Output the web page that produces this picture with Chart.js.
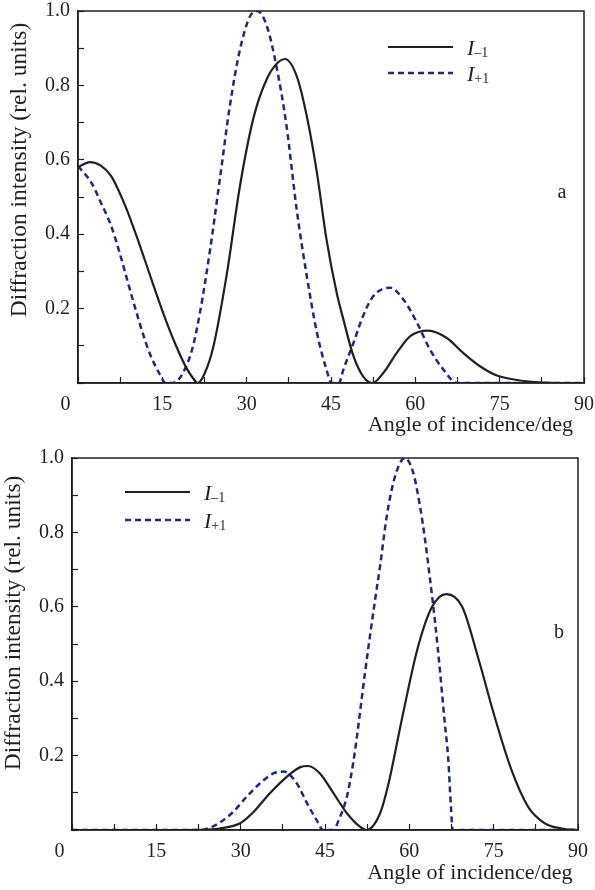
<!DOCTYPE html>
<html>

<head>
    <title>Diffraction intensity vs angle of incidence</title>
    <script src="https://cdn.jsdelivr.net/npm/chart.js"></script>
    <style>
        body { margin: 0; background: #fff; }
        canvas { display: block; }
    </style>
</head>

<body>
    <canvas id="chartA" width="595" height="440"></canvas>
    <canvas id="chartB" width="595" height="450"></canvas>

    <script>
        // panel a
        const angleMinusA = [0, 2.1, 4, 5.9, 8.3, 10.1, 11.9, 13.3, 15.4, 17.5, 19.3, 20.5, 21.3, 22.5, 24.1, 26.5, 28.8, 31.2, 33.6, 35.6, 36.8, 38.9, 40.7, 42.5, 44.2, 46, 47.2, 49, 50.7, 52.4, 54.3, 56.7, 59.1, 62.3, 65.6, 68.5, 71.5, 74.5, 78.1, 81.8, 86, 90];
        const intMinusA = [0.58, 0.594, 0.585, 0.556, 0.48, 0.408, 0.33, 0.268, 0.178, 0.098, 0.04, 0.012, 0, 0.025, 0.099, 0.296, 0.529, 0.712, 0.818, 0.862, 0.871, 0.825, 0.717, 0.565, 0.386, 0.243, 0.171, 0.072, 0.018, 0, 0.027, 0.081, 0.126, 0.141, 0.121, 0.081, 0.045, 0.02, 0.008, 0.002, 0, 0];
        const anglePlusA = [0, 2.4, 4.1, 5.9, 7.4, 8.9, 10.2, 11.6, 12.8, 14.6, 15.6, 16.8, 17.6, 18.7, 20.3, 21.7, 23.5, 25.3, 27, 28.8, 30.6, 31.9, 33.6, 35.3, 37.1, 38.9, 40.7, 42.5, 44.2, 45.1, 46.4, 47.2, 49, 50.7, 52.5, 55.5, 57.9, 60.3, 62.6, 65, 67.4, 75, 90];
        const intPlusA = [0.583, 0.538, 0.484, 0.422, 0.35, 0.269, 0.2, 0.13, 0.078, 0.022, 0, 0, 0.005, 0.028, 0.09, 0.19, 0.359, 0.556, 0.744, 0.896, 0.986, 1.0, 0.959, 0.851, 0.69, 0.466, 0.287, 0.135, 0.036, 0, 0, 0.036, 0.108, 0.18, 0.233, 0.256, 0.224, 0.162, 0.09, 0.036, 0, 0, 0];

        // panel b
        const angleMinusB = [0, 20, 24, 26.3, 29.9, 32.2, 35.2, 38.2, 40.6, 42, 44.1, 46.5, 48.9, 51.2, 52.4, 54.8, 56.3, 58.7, 61.5, 64, 66.6, 69.4, 72.2, 75.2, 78.2, 81.1, 84.1, 87.1, 90];
        const intMinusB = [0, 0, 0.001, 0.004, 0.018, 0.047, 0.099, 0.143, 0.169, 0.172, 0.152, 0.099, 0.045, 0.009, 0, 0.045, 0.125, 0.30, 0.49, 0.599, 0.634, 0.60, 0.465, 0.303, 0.16, 0.063, 0.018, 0.004, 0];
        const anglePlusB = [0, 20, 22.8, 25.1, 26.3, 28.7, 31.1, 33.4, 35.8, 37.6, 40, 41.8, 43.5, 44.7, 46.4, 47.7, 48.9, 50, 50.6, 52.1, 53.9, 54.8, 56, 57.1, 58.3, 59.2, 60.7, 61.9, 62.8, 63.7, 64.6, 65.5, 66.3, 66.9, 67.4, 67.7, 75, 90];
        const intPlusB = [0, 0, 0, 0.01, 0.02, 0.049, 0.09, 0.125, 0.152, 0.157, 0.125, 0.072, 0.027, 0, 0, 0.036, 0.09, 0.179, 0.242, 0.421, 0.618, 0.71, 0.845, 0.93, 0.985, 1.0, 0.96, 0.87, 0.78, 0.672, 0.556, 0.42, 0.288, 0.196, 0.062, 0, 0, 0];

        const seriesSubs = ['\u20131', '+1'];
        const xLabels = [0, 15, 30, 45, 60, 75, 90];
        const yLabels = [0.2, 0.4, 0.6, 0.8, 1.0];

        const ink = '#231f20';
        const navy = '#1e2a78';
        const serif = '"Liberation Serif", "Times New Roman", serif';
        const nb = '\u00a0';

        function points(xs, ys) {
            return xs.map((x, i) => ({ x: x, y: ys[i] }));
        }

        function noPad(s) {
            s.paddingTop = 0;
            s.paddingBottom = 0;
            s.paddingLeft = 0;
            s.paddingRight = 0;
        }

        // the origin label sits left of the corner in the original
        function xTick(v) {
            if (!xLabels.includes(v)) return '';
            return v === 0 ? '0' + nb.repeat(5) : String(v);
        }

        // frame, legend and panel letter
        const decor = {
            id: 'decor',
            afterDraw(chart, args, opts) {
                const ctx = chart.ctx;
                const a = chart.chartArea;
                ctx.save();
                ctx.strokeStyle = ink;
                ctx.lineWidth = 1.5;
                ctx.strokeRect(a.left, a.top, a.right - a.left, a.bottom - a.top);

                chart.data.datasets.forEach((ds, i) => {
                    const y = opts.legendY + i * opts.legendGap;
                    ctx.strokeStyle = ds.borderColor;
                    ctx.lineWidth = ds.borderWidth;
                    ctx.setLineDash(ds.borderDash || []);
                    ctx.beginPath();
                    ctx.moveTo(opts.legendX, y);
                    ctx.lineTo(opts.legendX + 65, y);
                    ctx.stroke();
                    ctx.setLineDash([]);

                    ctx.fillStyle = ink;
                    ctx.textBaseline = 'alphabetic';
                    ctx.font = 'italic 22px ' + serif;
                    const tx = opts.legendX + 79;
                    ctx.fillText('I', tx, y + 8);
                    const w = ctx.measureText('I').width;
                    ctx.font = '14px ' + serif;
                    ctx.fillText(seriesSubs[i], tx + w, y + 10);
                });

                ctx.fillStyle = ink;
                ctx.font = '20px ' + serif;
                ctx.textAlign = 'center';
                ctx.textBaseline = 'middle';
                ctx.fillText(opts.letter, opts.letterX, opts.letterY);
                ctx.restore();
            }
        };

        function makeChart(id, minusX, minusY, plusX, plusY, lay) {
            const ctx = document.getElementById(id).getContext('2d');
            return new Chart(ctx, {
                type: 'line',
                data: {
                    datasets: [{
                        label: 'I\u20131',
                        data: points(minusX, minusY),
                        borderColor: ink,
                        borderWidth: 2.2,
                        pointRadius: 0,
                        cubicInterpolationMode: 'monotone',
                        fill: false,
                    }, {
                        label: 'I+1',
                        data: points(plusX, plusY),
                        borderColor: navy,
                        borderWidth: 2.5,
                        borderDash: [6, 4],
                        pointRadius: 0,
                        cubicInterpolationMode: 'monotone',
                        fill: false,
                    }],
                },
                options: {
                    responsive: false,
                    animation: false,
                    events: [],
                    layout: { padding: { top: lay.top, right: lay.right, left: 0, bottom: 0 } },
                    plugins: {
                        legend: { display: false },
                        tooltip: { enabled: false },
                        decor: lay.decor,
                    },
                    scales: {
                        x: {
                            type: 'linear',
                            position: 'bottom',
                            min: 0,
                            max: 90,
                            afterFit: (s) => { s.height = lay.xHeight; noPad(s); },
                            grid: { drawOnChartArea: false, tickLength: -6, tickColor: ink, tickWidth: 1.2 },
                            border: { color: ink, width: 1.5 },
                            ticks: {
                                stepSize: 7.5,
                                autoSkip: false,
                                maxRotation: 0,
                                padding: 16,
                                color: ink,
                                font: { family: serif, size: 20 },
                                callback: xTick,
                            },
                            title: {
                                display: true,
                                text: 'Angle of incidence/deg' + lay.xTrail,
                                align: 'end',
                                color: ink,
                                font: { family: serif, size: 22 },
                                padding: { top: 0, bottom: lay.xTitlePad },
                            },
                        },
                        y: {
                            min: 0,
                            max: 1,
                            afterFit: (s) => { s.width = lay.yWidth; noPad(s); },
                            grid: { drawOnChartArea: false, tickLength: -6, tickColor: ink, tickWidth: 1.2 },
                            border: { color: ink, width: 1.5 },
                            ticks: {
                                stepSize: 0.1,
                                autoSkip: false,
                                padding: 14,
                                color: ink,
                                font: { family: serif, size: 20 },
                                callback: (v) => {
                                    const r = Math.round(v * 10) / 10;
                                    return yLabels.includes(r) ? r.toFixed(1) : '';
                                },
                            },
                            title: {
                                display: true,
                                text: 'Diffraction intensity (rel. units)' + lay.yTrail,
                                align: 'end',
                                color: ink,
                                font: { family: serif, size: 23.5 },
                                padding: { top: lay.yTitlePad, bottom: 0 },
                            },
                        },
                    },
                },
                plugins: [decor],
            });
        }

        makeChart('chartA', angleMinusA, intMinusA, anglePlusA, intPlusA, {
            top: 11, right: 11, xHeight: 57, yWidth: 78, xTitlePad: 2, yTitlePad: 6,
            xTrail: nb + nb, yTrail: nb + nb,
            decor: { legendX: 388, legendY: 47, legendGap: 26, letter: 'a', letterX: 562, letterY: 193 },
        });

        makeChart('chartB', angleMinusB, intMinusB, anglePlusB, intPlusB, {
            top: 18, right: 17, xHeight: 60, yWidth: 72, xTitlePad: 4, yTitlePad: 0,
            xTrail: nb, yTrail: nb + nb + nb,
            decor: { legendX: 125, legendY: 52, legendGap: 28, letter: 'b', letterX: 559, letterY: 193 },
        });
    </script>
</body>

</html>
